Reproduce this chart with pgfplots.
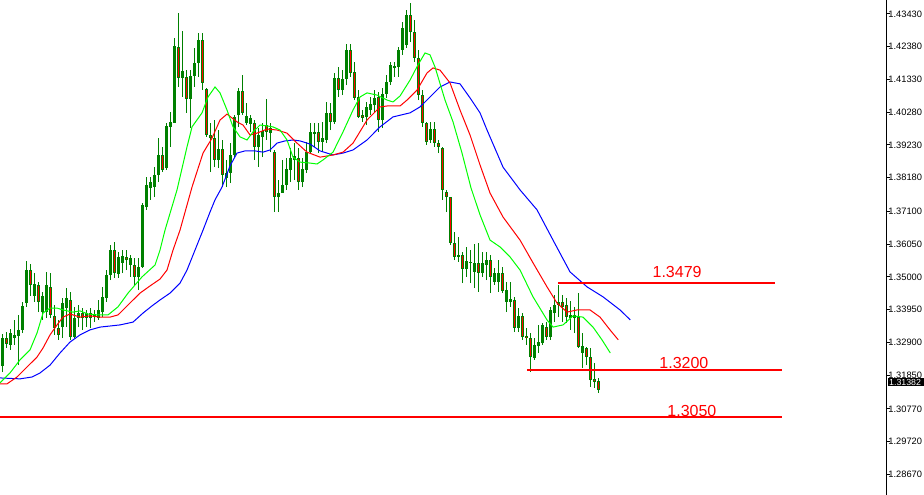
\documentclass[border=0pt]{standalone}
\usepackage{pgfplots}
\pgfplotsset{compat=1.18}
\usepackage{pgfplotstable}
\usepackage{fontspec}
\setmainfont{Liberation Sans}
\definecolor{cgreen}{RGB}{0,128,0}
\definecolor{cred}{RGB}{255,0,0}
\definecolor{lime}{RGB}{0,255,0}
\definecolor{jaw}{RGB}{0,0,255}

\pgfplotstableread{
k o h l c
0 1.3214 1.3317 1.3195 1.3304
1 1.3304 1.3323 1.3272 1.3285
2 1.3282 1.3333 1.3266 1.3320
3 1.3304 1.3362 1.3282 1.3314
4 1.3311 1.3378 1.3217 1.3330
5 1.3330 1.3420 1.3320 1.3407
6 1.3416 1.3551 1.3404 1.3522
7 1.3522 1.3541 1.3439 1.3474
8 1.3439 1.3512 1.3420 1.3477
9 1.3474 1.3484 1.3387 1.3420
10 1.3387 1.3452 1.3362 1.3439
11 1.3387 1.3516 1.3368 1.3474
12 1.3468 1.3512 1.3368 1.3378
13 1.3375 1.3410 1.3314 1.3336
14 1.3336 1.3362 1.3298 1.3314
15 1.3339 1.3432 1.3304 1.3416
16 1.3400 1.3464 1.3339 1.3432
17 1.3426 1.3452 1.3298 1.3307
18 1.3307 1.3404 1.3304 1.3368
19 1.3368 1.3410 1.3339 1.3384
20 1.3384 1.3400 1.3330 1.3368
21 1.3368 1.3394 1.3339 1.3384
22 1.3384 1.3400 1.3336 1.3368
23 1.3371 1.3394 1.3355 1.3381
24 1.3368 1.3426 1.3362 1.3394
25 1.3387 1.3468 1.3371 1.3436
26 1.3432 1.3522 1.3420 1.3506
27 1.3506 1.3602 1.3490 1.3586
28 1.3586 1.3612 1.3497 1.3512
29 1.3509 1.3580 1.3497 1.3564
30 1.3545 1.3586 1.3512 1.3567
31 1.3564 1.3586 1.3522 1.3554
32 1.3538 1.3570 1.3500 1.3561
33 1.3538 1.3561 1.3474 1.3500
34 1.3500 1.3561 1.3458 1.3532
35 1.3532 1.3737 1.3529 1.3731
36 1.3724 1.3820 1.3715 1.3795
37 1.3785 1.3820 1.3747 1.3804
38 1.3788 1.3852 1.3756 1.3827
39 1.3827 1.3945 1.3804 1.3891
40 1.3891 1.3917 1.3836 1.3843
41 1.3849 1.3994 1.3843 1.3984
42 1.3981 1.4029 1.3917 1.3997
43 1.3994 1.4266 1.3994 1.4240
44 1.4237 1.4346 1.4109 1.4138
45 1.4138 1.4289 1.4077 1.4160
46 1.4141 1.4163 1.4026 1.4070
47 1.4070 1.4163 1.3977 1.4144
48 1.4144 1.4234 1.4109 1.4186
49 1.4186 1.4282 1.4141 1.4260
50 1.4260 1.4282 1.4099 1.4122
51 1.4103 1.4106 1.3949 1.3955
52 1.3955 1.3994 1.3836 1.3945
53 1.3945 1.4003 1.3852 1.3875
54 1.3875 1.3971 1.3849 1.3910
55 1.3910 1.3939 1.3788 1.3827
56 1.3817 1.3875 1.3788 1.3833
57 1.3833 1.3929 1.3801 1.3891
58 1.3891 1.4019 1.3884 1.4013
59 1.4019 1.4106 1.3981 1.4096
60 1.4096 1.4147 1.4019 1.4026
61 1.3994 1.4058 1.3987 1.4016
62 1.3990 1.4019 1.3965 1.4010
63 1.3994 1.4003 1.3875 1.3917
64 1.3917 1.3977 1.3852 1.3955
65 1.3949 1.3994 1.3884 1.3968
66 1.3987 1.4070 1.3939 1.3965
67 1.3961 1.3994 1.3900 1.3977
68 1.3900 1.3907 1.3708 1.3756
69 1.3756 1.3811 1.3708 1.3769
70 1.3769 1.3875 1.3769 1.3795
71 1.3795 1.3881 1.3779 1.3846
72 1.3843 1.3913 1.3804 1.3881
73 1.3875 1.3929 1.3811 1.3888
74 1.3881 1.3913 1.3779 1.3804
75 1.3804 1.3881 1.3788 1.3846
76 1.3843 1.3933 1.3833 1.3900
77 1.3900 1.3994 1.3897 1.3965
78 1.3958 1.3994 1.3917 1.3965
79 1.3965 1.3994 1.3897 1.3933
80 1.3933 1.3997 1.3900 1.3945
81 1.3939 1.4061 1.3929 1.4026
82 1.4026 1.4058 1.3971 1.3997
83 1.3997 1.4154 1.3990 1.4138
84 1.4138 1.4173 1.4077 1.4099
85 1.4099 1.4163 1.4083 1.4135
86 1.4135 1.4247 1.4115 1.4228
87 1.4228 1.4247 1.4141 1.4154
88 1.4157 1.4189 1.4067 1.4074
89 1.4077 1.4099 1.4010 1.4013
90 1.4019 1.4035 1.3997 1.4010
91 1.4013 1.4061 1.3987 1.4045
92 1.4035 1.4077 1.4019 1.4054
93 1.4051 1.4099 1.4026 1.4074
94 1.4077 1.4093 1.3965 1.4003
95 1.4003 1.4106 1.3977 1.4086
96 1.4086 1.4147 1.4074 1.4125
97 1.4125 1.4189 1.4115 1.4180
98 1.4170 1.4189 1.4141 1.4176
99 1.4173 1.4237 1.4141 1.4228
100 1.4228 1.4317 1.4212 1.4298
101 1.4244 1.4356 1.4234 1.4340
102 1.4340 1.4378 1.4253 1.4285
103 1.4285 1.4324 1.4189 1.4202
104 1.4202 1.4228 1.4067 1.4083
105 1.4083 1.4099 1.3981 1.3994
106 1.3994 1.3997 1.3923 1.3933
107 1.3939 1.3997 1.3929 1.3974
108 1.3974 1.3997 1.3917 1.3929
109 1.3929 1.3939 1.3897 1.3917
110 1.3913 1.3917 1.3747 1.3779
111 1.3772 1.3779 1.3708 1.3756
112 1.3756 1.3756 1.3602 1.3609
113 1.3609 1.3644 1.3554 1.3564
114 1.3564 1.3628 1.3548 1.3570
115 1.3570 1.3580 1.3480 1.3525
116 1.3525 1.3596 1.3500 1.3551
117 1.3548 1.3586 1.3480 1.3545
118 1.3516 1.3605 1.3464 1.3545
119 1.3545 1.3609 1.3452 1.3512
120 1.3512 1.3580 1.3500 1.3545
121 1.3538 1.3580 1.3490 1.3554
122 1.3554 1.3570 1.3448 1.3500
123 1.3484 1.3529 1.3474 1.3512
124 1.3484 1.3554 1.3452 1.3512
125 1.3512 1.3532 1.3448 1.3455
126 1.3420 1.3484 1.3387 1.3458
127 1.3420 1.3484 1.3404 1.3429
128 1.3426 1.3436 1.3323 1.3336
129 1.3336 1.3400 1.3323 1.3375
130 1.3375 1.3384 1.3298 1.3307
131 1.3311 1.3336 1.3282 1.3304
132 1.3304 1.3320 1.3195 1.3243
133 1.3240 1.3304 1.3234 1.3282
134 1.3278 1.3346 1.3256 1.3291
135 1.3288 1.3352 1.3282 1.3346
136 1.3339 1.3355 1.3298 1.3307
137 1.3307 1.3404 1.3298 1.3394
138 1.3384 1.3442 1.3355 1.3410
139 1.3410 1.3474 1.3371 1.3420
140 1.3420 1.3442 1.3355 1.3404
141 1.3410 1.3432 1.3352 1.3371
142 1.3368 1.3423 1.3330 1.3378
143 1.3368 1.3404 1.3320 1.3378
144 1.3371 1.3448 1.3272 1.3275
145 1.3256 1.3320 1.3208 1.3278
146 1.3272 1.3275 1.3217 1.3243
147 1.3243 1.3272 1.3147 1.3169
148 1.3173 1.3224 1.3144 1.3163
149 1.3166 1.3176 1.3128 1.3138
}\candles

\begin{document}
\begin{tikzpicture}
\begin{axis}[
  scale only axis, width=886pt, height=495pt,
  at={(0pt,0pt)}, anchor=south west,
  xmin=-0.575, xmax=220.925, ymin=1.28006, ymax=1.43879,
  axis x line=none, axis y line*=right,
  axis line style={black, line width=1pt},
  ytick={1.2867,1.2972,1.3077,1.3185,1.3290,1.3395,1.3500,1.3605,1.3710,1.3818,1.3923,1.4028,1.4133,1.4238,1.4343},
  yticklabels={1.28670,1.29720,1.30770,1.31850,1.32900,1.33950,1.35000,1.36050,1.37100,1.38180,1.39230,1.40280,1.41330,1.42380,1.43430},
  tick align=outside, major tick length=4pt,
  tick style={black, line width=1pt},
  yticklabel style={font=\fontsize{9.3}{10}\selectfont, anchor=west, inner sep=0pt, xshift=-1.8pt},
  clip=false,
]
% wicks
\addplot[draw=none, no marks, forget plot,
  error bars/.cd, y dir=plus, y explicit, error mark=none,
  error bar style={line width=1pt, draw=cgreen}]
  table[x=k, y=l, y error expr=\thisrow{h}-\thisrow{l}] {\candles};
% bodies
\addplot[draw=none, no marks, forget plot,
  error bars/.cd, y dir=plus, y explicit, error mark=none,
  error bar style={line width=3pt, draw=cgreen}]
  table[x=k, y expr={min(\thisrow{o},\thisrow{c})}, y error expr={abs(\thisrow{o}-\thisrow{c})}] {\candles};
% bearish fill
\addplot[draw=none, no marks, forget plot,
  restrict expr to domain={\thisrow{o}-\thisrow{c}}{0.0007:1},
  error bars/.cd, y dir=plus, y explicit, error mark=none,
  error bar style={line width=1pt, draw=cred}]
  table[x=k, y expr=\thisrow{c}+0.00032, y error expr=\thisrow{o}-\thisrow{c}-0.00064] {\candles};

% Alligator jaw (blue)
\addplot[jaw, line width=1pt, mark=none] coordinates {
(-0.58,1.3176) (4.43,1.3173) (7.43,1.3179) (9.43,1.3192) (11.93,1.3217) (14.43,1.3256) (16.93,1.3291) (19.43,1.3314) (21.93,1.3330) (24.43,1.3339) (29.43,1.3346) (32.68,1.3355) (35.18,1.3384) (37.43,1.3407) (39.43,1.3426) (41.93,1.3448) (44.43,1.3480) (46.18,1.3522) (48.18,1.3586) (50.18,1.3650) (51.93,1.3708) (53.18,1.3747) (54.93,1.3788) (56.93,1.3856) (58.68,1.3897) (60.68,1.3904) (63.18,1.3904) (65.18,1.3900) (66.93,1.3907) (68.68,1.3929) (70.68,1.3936) (72.68,1.3939) (74.43,1.3936) (76.93,1.3926) (79.43,1.3904) (82.68,1.3891) (85.18,1.3897) (87.68,1.3907) (91.18,1.3939) (94.43,1.3981) (97.68,1.4013) (101.93,1.4026) (104.43,1.4045) (106.93,1.4077) (109.43,1.4109) (111.93,1.4125) (114.43,1.4119) (116.93,1.4074) (119.43,1.4026) (121.18,1.3971) (125.18,1.3852) (129.43,1.3779) (133.68,1.3715) (137.68,1.3618) (141.93,1.3516) (146.18,1.3468) (150.18,1.3436) (154.43,1.3394) (157,1.3362)
};
% Alligator teeth (red)
\addplot[cred, line width=1pt, mark=none] coordinates {
(-0.58,1.3157) (1.18,1.3157) (3.68,1.3179) (6.18,1.3211) (8.68,1.3243) (10.18,1.3272) (11.93,1.3314) (13.68,1.3346) (15.18,1.3371) (16.93,1.3381) (19.43,1.3371) (21.93,1.3375) (24.43,1.3371) (26.93,1.3371) (28.93,1.3378) (31.43,1.3410) (34.43,1.3448) (36.93,1.3471) (39.43,1.3493) (41.18,1.3522) (42.68,1.3586) (44.43,1.3650) (47.43,1.3788) (50.18,1.3897) (52.43,1.3945) (54.43,1.4003) (56.18,1.4022) (58.68,1.3997) (60.18,1.3987) (61.93,1.3955) (63.68,1.3961) (66.18,1.3974) (68.68,1.3971) (71.18,1.3961) (73.68,1.3929) (76.18,1.3900) (79.43,1.3884) (82.68,1.3891) (85.18,1.3900) (87.68,1.3929) (91.18,1.4003) (94.43,1.4045) (96.18,1.4048) (99.43,1.4048) (101.18,1.4067) (103.68,1.4099) (106.18,1.4154) (107.68,1.4170) (109.43,1.4163) (111.93,1.4122) (114.43,1.4035) (116.93,1.3955) (119.43,1.3859) (121.93,1.3769) (125.18,1.3692) (129.43,1.3618) (132.68,1.3545) (136.18,1.3468) (138.68,1.3416) (141.18,1.3387) (143.68,1.3394) (146.93,1.3394) (149.43,1.3371) (151.93,1.3330) (154,1.3298)
};
% Alligator lips (lime)
\addplot[lime, line width=1pt, mark=none] coordinates {
(-0.58,1.3160) (1.93,1.3192) (4.43,1.3234) (6.93,1.3266) (8.68,1.3320) (10.18,1.3384) (11.93,1.3400) (13.68,1.3400) (15.18,1.3394) (17.68,1.3387) (19.43,1.3391) (21.43,1.3381) (23.68,1.3378) (26.43,1.3378) (28.93,1.3404) (31.43,1.3448) (34.93,1.3500) (38.18,1.3538) (39.43,1.3586) (40.68,1.3650) (43.68,1.3779) (46.18,1.3917) (47.43,1.3981) (49.93,1.4026) (51.43,1.4077) (53.18,1.4109) (54.43,1.4090) (56.18,1.4035) (57.68,1.3981) (59.43,1.3949) (61.18,1.3939) (62.68,1.3965) (64.43,1.3987) (66.18,1.3984) (67.68,1.3981) (69.43,1.3971) (71.18,1.3939) (72.68,1.3884) (74.43,1.3868) (76.93,1.3865) (78.68,1.3862) (80.18,1.3875) (82.68,1.3900) (85.18,1.3965) (87.68,1.4035) (89.43,1.4077) (91.18,1.4090) (93.68,1.4083) (96.18,1.4067) (97.68,1.4061) (99.43,1.4080) (101.93,1.4131) (103.93,1.4180) (105.68,1.4218) (106.93,1.4212) (108.18,1.4173) (110.68,1.4067) (112.68,1.3997) (114.93,1.3897) (117.18,1.3785) (119.43,1.3699) (121.93,1.3618) (124.43,1.3596) (126.93,1.3564) (129.43,1.3522) (132.68,1.3436) (136.18,1.3362) (137.68,1.3339) (140.18,1.3346) (142.68,1.3375) (145.18,1.3371) (147.68,1.3339) (149.93,1.3298) (152,1.3256)
};

% horizontal levels
\addplot[cred, line width=2pt, mark=none] coordinates {(138.9,1.3479) (193.2,1.3479)};
\addplot[cred, line width=2pt, mark=none] coordinates {(131.2,1.3200) (194.9,1.3200)};
\addplot[cred, line width=2pt, mark=none] coordinates {(-0.575,1.3050) (194.9,1.3050)};
\node[text=cred, font=\fontsize{16}{18}\selectfont, inner sep=0pt] at (axis cs:168.7,1.3516) {1.3479};
\node[text=cred, font=\fontsize{16}{18}\selectfont, inner sep=0pt] at (axis cs:170.4,1.3224) {1.3200};
\node[text=cred, font=\fontsize{16}{18}\selectfont, inner sep=0pt] at (axis cs:172.4,1.3070) {1.3050};
\end{axis}
% current price box
\fill[black] (887.5pt,108.5pt) rectangle (930pt,116.5pt);
\node[text=white, anchor=west, inner sep=0pt, font=\fontsize{8.8}{10}\selectfont] at (889pt,112.5pt) {1.31382};
\pgfresetboundingbox
\useasboundingbox (0pt,0pt) rectangle (924pt,495pt);
\end{tikzpicture}
\end{document}
